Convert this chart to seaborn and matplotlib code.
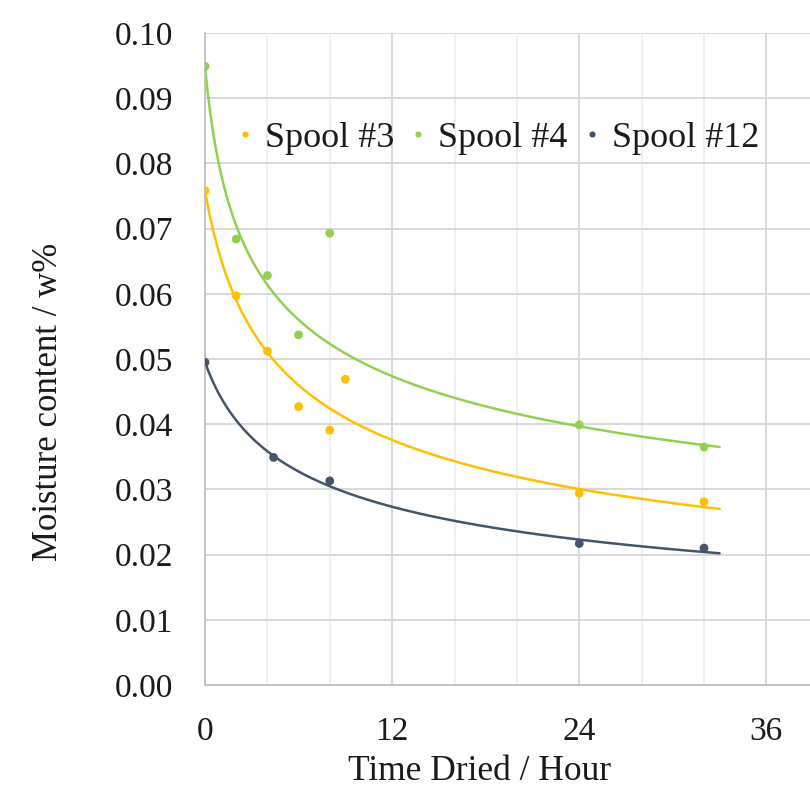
import numpy as np
import pandas as pd
import seaborn as sns
import matplotlib.pyplot as plt
from matplotlib.ticker import MultipleLocator

hours_3 = [0, 2, 4, 6, 8, 9, 24, 32]
moist_3 = [0.0758, 0.0597, 0.0512, 0.0427, 0.0391, 0.0469, 0.0294, 0.0281]
hours_4 = [0, 2, 4, 6, 8, 24, 32]
moist_4 = [0.0949, 0.0684, 0.0628, 0.0537, 0.0693, 0.0399, 0.0365]
hours_12 = [0, 4.4, 8, 24, 32]
moist_12 = [0.0495, 0.0349, 0.0313, 0.0217, 0.0210]

spools = ['Spool #3', 'Spool #4', 'Spool #12']
colors = ['#FFC000', '#92D050', '#44546A']

# trend lines y = a*(x+c)^b: value at 0 h, value at 33 h, offset c
trend_start = [0.0758, 0.0949, 0.0495]
trend_end = [0.0270, 0.0365, 0.0202]
trend_offset = [2.0, 1.0, 2.5]
trend_span = 33

points = pd.concat([
    pd.DataFrame({'hours': hours_3, 'moisture': moist_3, 'spool': 'Spool #3'}),
    pd.DataFrame({'hours': hours_4, 'moisture': moist_4, 'spool': 'Spool #4'}),
    pd.DataFrame({'hours': hours_12, 'moisture': moist_12, 'spool': 'Spool #12'}),
])

t = np.linspace(0, trend_span, 200)
fits = []
for name, y0, y1, c in zip(spools, trend_start, trend_end, trend_offset):
    b = np.log(y1 / y0) / np.log((trend_span + c) / c)
    fits.append(pd.DataFrame({'hours': t, 'moisture': y0 * ((t + c) / c) ** b, 'spool': name}))
trend = pd.concat(fits)

sns.set_style('white')
plt.rcParams['font.family'] = ['Liberation Serif', 'DejaVu Serif']
plt.rcParams['text.color'] = '#1a1a1a'

fig = plt.figure(figsize=(8.1, 8), dpi=100)
ax = fig.add_axes([0.2531, 0.14375, 0.747, 0.815])

pal = dict(zip(spools, colors))
sns.lineplot(data=trend, x='hours', y='moisture', hue='spool', palette=pal,
             hue_order=spools, linewidth=1.8, legend=False, ax=ax)
sns.scatterplot(data=points, x='hours', y='moisture', hue='spool', palette=pal,
                hue_order=spools, s=40, edgecolor='none', ax=ax, zorder=3)

ax.set_xlim(0, 38.8)
ax.set_ylim(0, 0.10)
ax.xaxis.set_major_locator(MultipleLocator(12))
ax.xaxis.set_minor_locator(MultipleLocator(4))
ax.yaxis.set_major_locator(MultipleLocator(0.01))
ax.yaxis.set_major_formatter(plt.FormatStrFormatter('%.2f'))
ax.grid(True, which='major', color='#d6d6d6', linewidth=1.3)
ax.grid(True, which='minor', axis='x', color='#ebebeb', linewidth=1.1)
ax.set_axisbelow(True)
ax.tick_params(axis='both', which='both', length=0, labelsize=24, labelcolor='#1a1a1a')
ax.tick_params(axis='x', pad=23)
ax.tick_params(axis='y', pad=23)

for side in ['top', 'right']:
    ax.spines[side].set_visible(False)
for side in ['left', 'bottom']:
    ax.spines[side].set_color('#bfbfbf')
    ax.spines[side].set_linewidth(1.3)

ax.set_xlabel('Time Dried / Hour', fontsize=25.5, color='#1a1a1a')
ax.set_ylabel('Moisture content / w%', fontsize=25, color='#1a1a1a')
ax.xaxis.set_label_coords(0.4545, -0.108)
ax.yaxis.set_label_coords(-0.232, 0.434)

ax.legend(title=None, ncol=3, frameon=False, fontsize=26, loc='center left',
          bbox_to_anchor=(0.051, 0.839), borderaxespad=0, borderpad=0,
          handlelength=0.5, handletextpad=0.3, columnspacing=0.42,
          markerscale=0.7)

plt.savefig('out.png', dpi=100)
plt.close()
